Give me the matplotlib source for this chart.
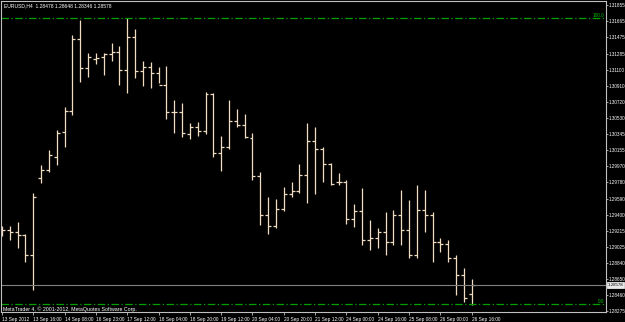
import matplotlib
matplotlib.use("Agg")
import matplotlib.pyplot as plt

plt.rcParams["font.family"] = ["Liberation Sans", "DejaVu Sans"]

# EURUSD H4 bars (open, high, low, close)
opens = [1.29199, 1.29223, 1.29199, 1.29164, 1.28930, 1.29831, 1.29925, 1.30077, 1.30369, 1.30615,
         1.31457, 1.31118, 1.31223, 1.31247, 1.31282, 1.31305, 1.31095, 1.31481, 1.31083, 1.31130,
         1.31059, 1.30919, 1.30603, 1.30603, 1.30346, 1.30428, 1.30381, 1.30814, 1.30123, 1.30194,
         1.30498, 1.30451, 1.30299, 1.29854, 1.29398, 1.29269, 1.29469, 1.29644, 1.29679, 1.29866,
         1.30264, 1.30170, 1.29995, 1.29784, 1.29784, 1.29352, 1.29445, 1.29106, 1.29129, 1.29199,
         1.29082, 1.29398, 1.29223, 1.28930, 1.29457, 1.29398, 1.29082, 1.29059, 1.28895, 1.28696,
         1.28478]
highs = [1.29269, 1.29269, 1.29316, 1.29176, 1.29655, 1.29983, 1.30159, 1.30393, 1.30662, 1.31504,
         1.31680, 1.31293, 1.31293, 1.31293, 1.31410, 1.31375, 1.31705, 1.31574, 1.31200, 1.31188,
         1.31130, 1.31141, 1.30744, 1.30708, 1.30474, 1.30486, 1.30837, 1.30825, 1.30322, 1.30744,
         1.30638, 1.30580, 1.30357, 1.29901, 1.29609, 1.29585, 1.29726, 1.29784, 1.29995, 1.30474,
         1.30428, 1.30194, 1.30006, 1.29889, 1.29808, 1.29527, 1.29714, 1.29340, 1.29246, 1.29434,
         1.29457, 1.29691, 1.29574, 1.29749, 1.29691, 1.29434, 1.29129, 1.29106, 1.28930, 1.28777,
         1.28648]
lows = [1.29152, 1.29106, 1.29012, 1.28848, 1.28521, 1.29773, 1.29901, 1.29983, 1.30194, 1.30568,
        1.30954, 1.31013, 1.31165, 1.31036, 1.31200, 1.30919, 1.30825, 1.31001, 1.30907, 1.30884,
        1.30942, 1.30521, 1.30357, 1.30311, 1.30287, 1.30322, 1.30346, 1.30077, 1.29913, 1.30170,
        1.30428, 1.30299, 1.29808, 1.29281, 1.29176, 1.29246, 1.29445, 1.29609, 1.29655, 1.29539,
        1.29644, 1.29784, 1.29749, 1.29749, 1.29293, 1.29258, 1.29047, 1.28988, 1.29012, 1.28930,
        1.29047, 1.29047, 1.28895, 1.28895, 1.29199, 1.28848, 1.28965, 1.28848, 1.28462, 1.28380,
        1.28346]
closes = [1.29223, 1.29199, 1.29164, 1.28930, 1.29609, 1.29925, 1.30100, 1.30357, 1.30615, 1.31457,
          1.31118, 1.31247, 1.31235, 1.31282, 1.31305, 1.31095, 1.31481, 1.31083, 1.31130, 1.31059,
          1.30919, 1.30603, 1.30603, 1.30357, 1.30428, 1.30381, 1.30814, 1.30123, 1.30194, 1.30498,
          1.30451, 1.30311, 1.29854, 1.29398, 1.29269, 1.29469, 1.29644, 1.29679, 1.29866, 1.30264,
          1.30170, 1.29995, 1.29761, 1.29784, 1.29352, 1.29445, 1.29106, 1.29129, 1.29199, 1.29082,
          1.29398, 1.29223, 1.28930, 1.29457, 1.29398, 1.29082, 1.29059, 1.28895, 1.28696, 1.28427,
          1.28578]

price_ticks = [1.31855, 1.31665, 1.31475, 1.31285, 1.31100, 1.30910, 1.30720, 1.30530, 1.30345, 1.30155,
               1.29970, 1.29780, 1.29590, 1.29400, 1.29215, 1.29025, 1.28840, 1.28650, 1.28460, 1.28275]
time_labels = ["13 Sep 2012", "13 Sep 16:00", "14 Sep 08:00", "16 Sep 23:00", "17 Sep 12:00",
               "18 Sep 04:00", "18 Sep 20:00", "19 Sep 12:00", "20 Sep 04:00", "20 Sep 20:00",
               "21 Sep 12:00", "24 Sep 00:00", "24 Sep 16:00", "25 Sep 08:00", "26 Sep 00:00",
               "26 Sep 16:00"]
fib_high = 1.31705
fib_low = 1.28357
bid = 1.28578

W, H = 625, 322
fig = plt.figure(figsize=(W / 100, H / 100), dpi=100, facecolor="black")
ax = fig.add_axes([1 / W, 10 / H, 605 / W, 311 / H], facecolor="black")

bar_color = "#f0dcc0"
idx = list(range(len(opens)))
ax.vlines(idx, lows, highs, color=bar_color, lw=0.9)
ax.hlines(opens, [i - 0.38 for i in idx], idx, color=bar_color, lw=0.9)
ax.hlines(closes, idx, [i + 0.38 for i in idx], color=bar_color, lw=0.9)

ax.set_xlim(-0.12, 77.15)
ax.set_ylim(1.28263, 1.31902)

# fibo levels and bid line
ax.axhline(fib_high, color="#00a000", lw=0.9, ls=(0, (6, 2, 1, 2)))
ax.axhline(fib_low, color="#00a000", lw=0.9, ls=(0, (6, 2, 1, 2)))
ax.axhline(bid, color="#808080", lw=0.8)
ax.text(76.9, fib_high, "100.0", color="#00c000", fontsize=3.4, ha="right", va="bottom")
ax.text(76.9, fib_low, "0.0", color="#00c000", fontsize=3.4, ha="right", va="bottom")

for s in ax.spines.values():
    s.set_color("#c0c0c0")
    s.set_linewidth(0.8)

ax.yaxis.tick_right()
ax.set_yticks(price_ticks)
ax.set_yticklabels([f"{p:.5f}" for p in price_ticks])
ax.set_xticks(idx[::4])
ax.set_xticklabels(time_labels, ha="left")
ax.tick_params(axis="y", colors="#c0c0c0", labelcolor="white", labelsize=3.3, length=1.6, width=0.6, pad=0.6)
ax.tick_params(axis="x", colors="#c0c0c0", labelcolor="white", labelsize=3.4, length=2.5, width=0.6, pad=1)

ax.text(1.0 + 2 / W, bid, f"{bid:.5f}", transform=ax.get_yaxis_transform(), fontsize=3.2,
        color="black", va="center", ha="left",
        bbox=dict(boxstyle="square,pad=0.15", facecolor="#e8e8e8", edgecolor="white", lw=0.5))

fig.text(4 / W, 1 - 6 / H, "EURUSD,H4  1.28478 1.28648 1.28346 1.28578", color="white",
         fontsize=3.6, va="center", ha="left")
fig.text(3 / W, 1 - 309 / H, "MetaTrader 4, \u00a9 2001-2012, MetaQuotes Software Corp.", color="white",
         fontsize=3.8, va="center", ha="left")

fig.savefig("out.png", dpi=100, facecolor="black")
